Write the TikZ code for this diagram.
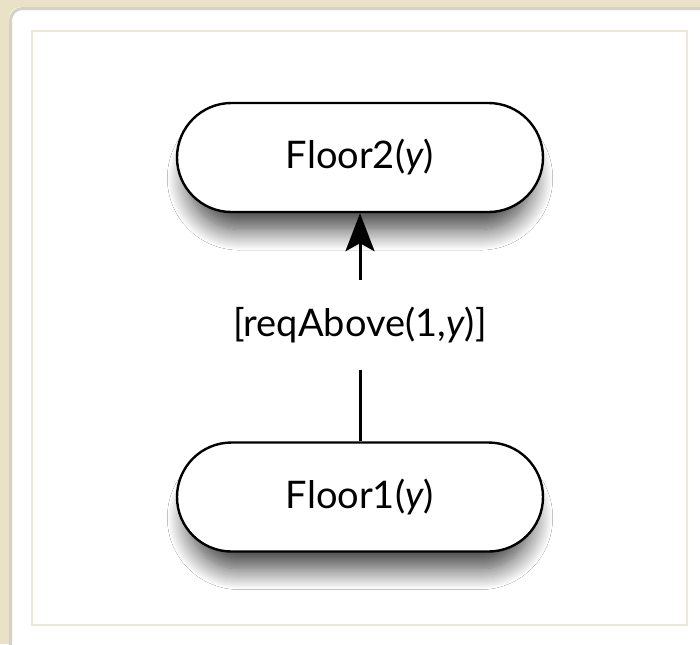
\documentclass[tikz,border=0pt]{standalone}
\usepackage{fontspec}
\setmainfont{Lato}
\usetikzlibrary{shapes.misc,arrows.meta,shadows.blur}
\definecolor{paper}{RGB}{233,226,198}
\definecolor{frameline}{RGB}{236,232,216}
\begin{document}
\begin{tikzpicture}[x=0.5pt,y=-0.5pt,
		state/.style={rounded rectangle,draw,line width=1.2pt,fill=white,
			minimum width=183pt,minimum height=54.5pt,inner sep=0pt,
			blur shadow={shadow xshift=0pt,shadow yshift=-11pt,shadow scale=0.94,
				shadow blur radius=11pt,shadow blur steps=20,shadow opacity=75},
			font=\fontsize{19}{23}\selectfont},
		guard/.style={inner sep=0pt,minimum height=45pt,font=\fontsize{19}{23}\selectfont}]
			% background and frame
			\useasboundingbox (0,0) rectangle (700,644);
			\fill[paper] (0,0) rectangle (700,644);
			\fill[white,rounded corners=6pt] (9,7) rectangle (720,664);
			\draw[black!18,line width=1.5pt,rounded corners=6pt] (10.5,664) -- (10.5,8.5) -- (720,8.5);
			\draw[frameline,line width=1pt] (32,31) rectangle (687,625);

			% states
			\node[state] (floor2) at (360,157.5) {Floor2(\textit{y})};
			\node[state] (floor1) at (360,497) {Floor1(\textit{y})};

			% transition
			\node[guard] (req) at (360,325) {[reqAbove(1,\textit{y})]};
			\draw[line width=1.5pt] (floor1.north) -- (req.south);
			\draw[line width=1.5pt,-{Stealth[length=19pt,width=14.5pt,inset=4pt]}] (req.north) -- (floor2.south);
		\end{tikzpicture}
\end{document}
